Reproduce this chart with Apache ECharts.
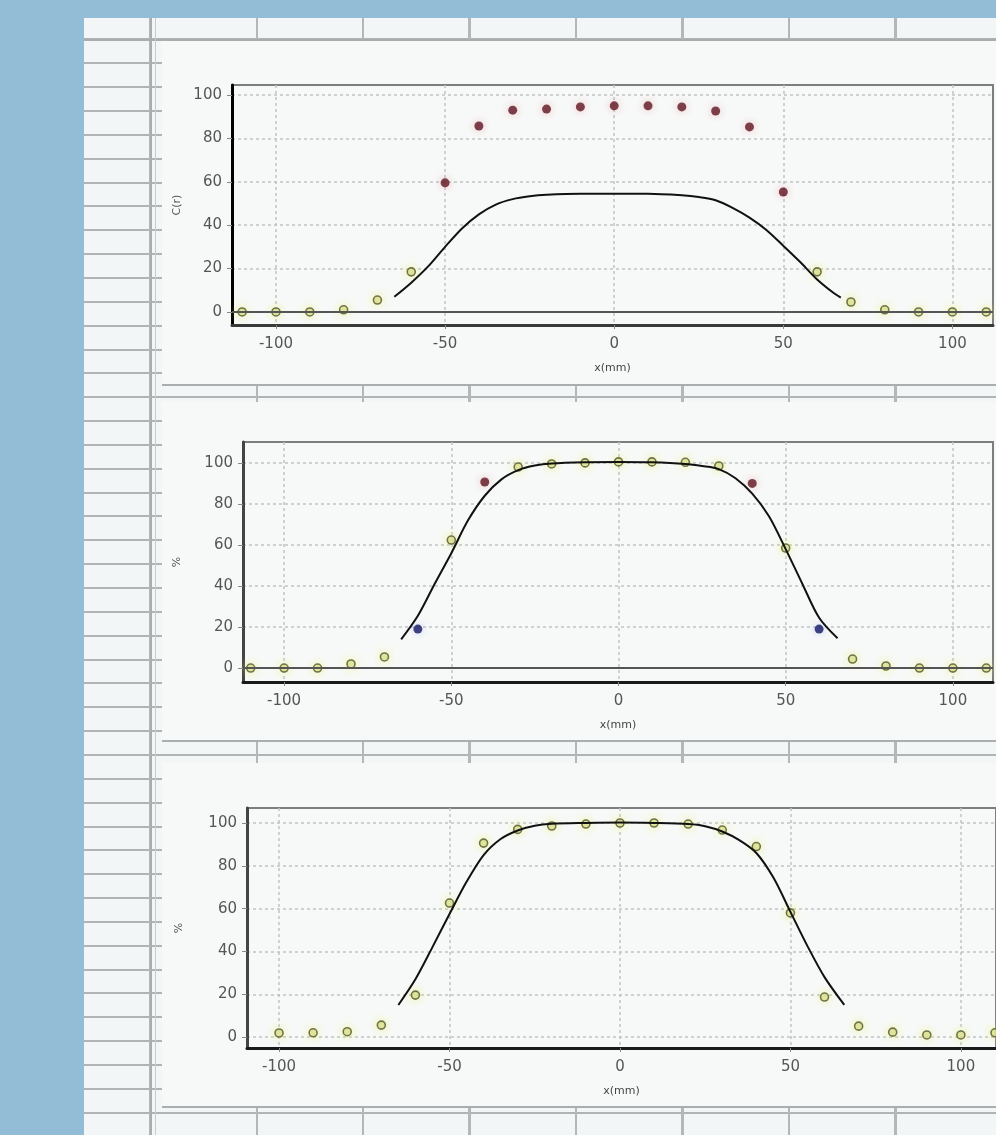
<!DOCTYPE html>
<html>
<head>
<meta charset="utf-8">
<title>profiles</title>
<script src="https://cdn.jsdelivr.net/npm/echarts@6.0.0/dist/echarts.min.js"></script>
<style>
    body { margin: 0; background: #93bcd6; }
    /* spreadsheet behind the charts */
    #sheet {
        position: absolute; left: 84px; top: 18px; width: 912px; height: 1117px;
        background-color: #f3f6f6;
        background-image:
            repeating-linear-gradient(90deg, transparent 0 65px, #b3b7b7 65px 67px, transparent 67px 106.5px),
            repeating-linear-gradient(180deg, transparent 0 20.5px, #b0b4b4 20.5px 22.5px, transparent 22.5px 23.85px);
    }
    .line { position: absolute; background: #a9adad; }
    .panel { position: absolute; left: 162px; width: 834px; background: #f7f9f8; border-bottom: 2px solid #aaaeae; }
    #chart { position: absolute; left: 0; top: 0; width: 996px; height: 1135px; }
</style>
</head>
<body>
<div id="sheet"></div>
<div class="line" style="left:84px; top:39px; width:912px; height:2px;"></div>
<div class="line" style="left:150px; top:18px; width:2px; height:1117px;"></div>
<div class="line" style="left:155px; top:18px; width:1px; height:1117px; background:#c8cbcb;"></div>
<div class="panel" style="top:41px; height:343px;"></div>
<div class="panel" style="top:402px; height:338px;"></div>
<div class="panel" style="top:763px; height:343px;"></div>
<div id="chart"></div>

<script>
    // chart 1
    var c1_open_x = [-110, -100, -90, -80, -70, -60, 60, 70, 80, 90, 100, 110];
    var c1_open_y = [0, 0, 0, 1, 5.5, 18.5, 18.5, 4.6, 1, 0, 0, 0];
    var c1_red_x = [-50, -40, -30, -20, -10, 0, 10, 20, 30, 40, 50];
    var c1_red_y = [59.5, 85.7, 93, 93.5, 94.5, 95, 95, 94.5, 92.6, 85.3, 55.3];
    var c1_fit_x = [-65, -60, -55, -50, -45, -40, -35, -30, -25, -20, -10, 0, 10, 20, 25, 30, 35, 40, 45, 50, 55, 60, 65, 67];
    var c1_fit_y = [7, 13.5, 21, 30, 38.5, 45, 49.5, 52, 53.3, 54, 54.5, 54.5, 54.5, 53.8, 53, 51.5, 48, 43.5, 37.8, 30.5, 23, 15, 8.6, 6.6];

    // chart 2
    var c2_open_x = [-110, -100, -90, -80, -70, -50, -30, -20, -10, 0, 10, 20, 30, 50, 70, 80, 90, 100, 110];
    var c2_open_y = [0, 0, 0, 2, 5.4, 62.4, 98, 99.5, 100, 100.5, 100.5, 100.3, 98.5, 58.5, 4.4, 1, 0, 0, 0];
    var c2_red_x = [-40, 40];
    var c2_red_y = [90.7, 90];
    var c2_blue_x = [-60, 60];
    var c2_blue_y = [19, 19];
    var c2_fit_x = [-65, -60, -55, -50, -45, -40, -35, -30, -25, -20, -10, 0, 10, 20, 25, 30, 35, 40, 45, 50, 55, 60, 65.5];
    var c2_fit_y = [14, 25.5, 41, 56, 72, 84, 92, 96.5, 98.7, 99.7, 100.3, 100.5, 100.3, 99.5, 98.5, 97, 92.5, 85, 74, 58, 41, 24.5, 14.5];

    // chart 3
    var c3_open_x = [-100, -90, -80, -70, -60, -50, -40, -30, -20, -10, 0, 10, 20, 30, 40, 50, 60, 70, 80, 90, 100, 110];
    var c3_open_y = [1.9, 2, 2.5, 5.6, 19.6, 62.6, 90.6, 97, 98.6, 99.5, 100, 100, 99.5, 96.7, 89, 58, 18.7, 5.1, 2.3, 1, 1, 2];
    var c3_fit_x = [-65, -60, -55, -50, -45, -40, -35, -30, -25, -20, -10, 0, 10, 20, 25, 30, 35, 40, 45, 50, 55, 60, 65.8];
    var c3_fit_y = [15, 27, 42, 57.5, 72.5, 85, 92.5, 96.5, 98.7, 99.6, 100, 100.2, 100, 99.5, 98.5, 96, 92, 86, 74.5, 58.5, 42.5, 28, 15];

    function pairs(xs, ys) {
        var out = [];
        for (var i = 0; i < xs.length; i++) out.push([xs[i], ys[i]]);
        return out;
    }

    var labelFont = { fontFamily: 'DejaVu Sans', fontSize: 15, color: '#555' };
    var gridLine = { show: true, showMinLine: false, showMaxLine: false, lineStyle: { color: '#bfc3c3', width: 1.5, type: [3, 3] } };

    function xAxisFor(i, min, max, col) {
        return {
            type: 'value', gridIndex: i, min: min, max: max,
            name: 'x(mm)', nameLocation: 'middle', nameGap: 38,
            nameTextStyle: { fontFamily: 'DejaVu Sans', fontSize: 11, color: '#444' },
            axisLine: { show: true, onZero: false, lineStyle: { color: col, width: 3 } },
            axisTick: { show: true, length: 4, lineStyle: { color: '#888' } },
            axisLabel: Object.assign({ margin: 12, showMinLabel: false, showMaxLabel: false }, labelFont),
            splitLine: gridLine
        };
    }
    function yAxisFor(i, min, max, name, gap, col) {
        return {
            type: 'value', gridIndex: i, min: min, max: max,
            name: name, nameLocation: 'middle', nameGap: gap, nameRotate: 90,
            nameTextStyle: { fontFamily: 'DejaVu Sans', fontSize: 11, color: '#555' },
            axisLine: { show: true, onZero: false, lineStyle: { color: col, width: 3 } },
            axisTick: { show: true, length: 5, lineStyle: { color: '#888' } },
            axisLabel: Object.assign({ margin: 10, showMinLabel: false, showMaxLabel: false }, labelFont),
            splitLine: gridLine
        };
    }

    var openStyle = {
        color: '#d8dc94', borderColor: '#50552a', borderWidth: 1.6,
        shadowColor: 'rgba(236,242,110,0.8)', shadowBlur: 8
    };
    var redStyle = { color: '#5e1420', shadowColor: 'rgba(235,130,140,0.6)', shadowBlur: 8 };
    var blueStyle = { color: '#121665', shadowColor: 'rgba(130,140,235,0.5)', shadowBlur: 8 };
    var zeroLine = {
        silent: true, symbol: 'none', label: { show: false },
        lineStyle: { color: '#555', width: 2, type: 'solid' },
        data: [{ yAxis: 0 }]
    };

    function scatter(i, data, style, size) {
        return { type: 'scatter', xAxisIndex: i, yAxisIndex: i, data: data, symbolSize: size, itemStyle: style };
    }
    function fit(i, data, withZero) {
        var s = {
            type: 'line', xAxisIndex: i, yAxisIndex: i, data: data, smooth: 0.3,
            showSymbol: false, lineStyle: { color: '#111', width: 2 }
        };
        if (withZero) s.markLine = zeroLine;
        return s;
    }

    var chart = echarts.init(document.getElementById('chart'));
    var option = {
        animation: false,
        backgroundColor: 'transparent',
        grid: [
            { left: 232, right: 3, top: 85, bottom: 810, show: true, borderColor: '#7b7f7f', borderWidth: 2, containLabel: false },
            { left: 243, right: 3, top: 442, bottom: 453, show: true, borderColor: '#7b7f7f', borderWidth: 2, containLabel: false },
            { left: 247, right: -1, top: 808, bottom: 87, show: true, borderColor: '#7b7f7f', borderWidth: 2, containLabel: false }
        ],
        xAxis: [
            xAxisFor(0, -113, 112, '#3a3a3a'),
            xAxisFor(1, -112.3, 112, '#1a1a1a'),
            xAxisFor(2, -109.4, 110.3, '#1a1a1a')
        ],
        yAxis: [
            yAxisFor(0, -6, 104.6, 'C(r)', 44, '#000'),
            yAxisFor(1, -6.8, 110.2, '%', 60, '#444'),
            yAxisFor(2, -5.1, 107, '%', 62, '#444')
        ],
        series: [
            scatter(0, pairs(c1_open_x, c1_open_y), openStyle, 8),
            scatter(0, pairs(c1_red_x, c1_red_y), redStyle, 9),
            fit(0, pairs(c1_fit_x, c1_fit_y), true),

            scatter(1, pairs(c2_open_x, c2_open_y), openStyle, 8),
            scatter(1, pairs(c2_red_x, c2_red_y), redStyle, 9),
            scatter(1, pairs(c2_blue_x, c2_blue_y), blueStyle, 9),
            fit(1, pairs(c2_fit_x, c2_fit_y), true),

            scatter(2, pairs(c3_open_x, c3_open_y), openStyle, 8),
            fit(2, pairs(c3_fit_x, c3_fit_y), false)
        ]
    };
    chart.setOption(option);
</script>
</body>
</html>
